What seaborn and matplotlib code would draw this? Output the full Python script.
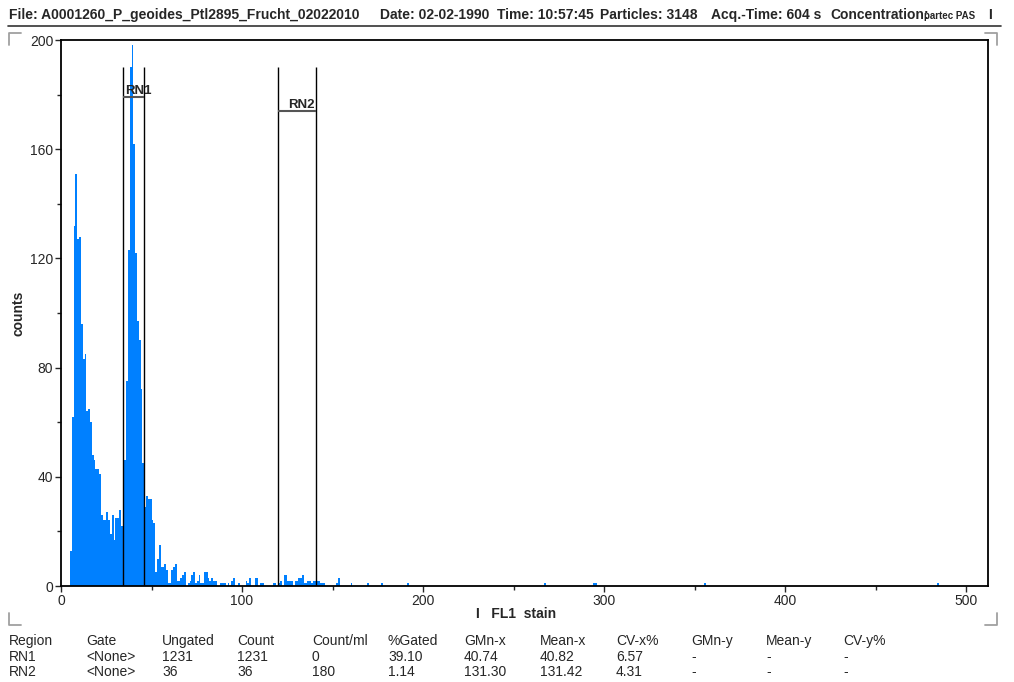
import numpy as np
import pandas as pd
import matplotlib.pyplot as plt
import matplotlib.lines as mlines
from matplotlib.ticker import MultipleLocator
import seaborn as sns

# FL1 histogram, one channel per bin (channels 5..153 then a few stray events)
channel = list(range(5, 154)) + [160, 169, 177, 191, 267, 294, 295, 355, 484]
counts = [13, 62, 132, 151, 127, 128, 96, 83, 85, 64,
          65, 60, 48, 46, 43, 43, 41, 26, 24, 24,
          27, 24, 19, 26, 17, 25, 25, 28, 22, 26,
          46, 75, 123, 190, 198, 162, 122, 97, 90, 72,
          45, 29, 33, 32, 32, 24, 23, 5, 10, 15,
          7, 7, 8, 6, 1, 1, 6, 7, 8, 2,
          2, 3, 4, 5, 0, 1, 2, 4, 5, 1,
          2, 4, 1, 1, 5, 5, 3, 2, 3, 2,
          2, 0, 0, 1, 1, 1, 0, 1, 0, 2,
          3, 0, 0, 1, 0, 0, 0, 2, 1, 3,
          0, 0, 3, 3, 0, 1, 1, 0, 0, 0,
          0, 0, 1, 1, 0, 1, 2, 0, 4, 4,
          2, 2, 2, 0, 2, 2, 3, 3, 4, 1,
          1, 2, 2, 1, 2, 2, 2, 2, 1, 1,
          1, 0, 0, 0, 0, 0, 0, 1, 3,
          1, 1, 1, 1, 1, 1, 1, 1, 1]

# region gates
gate_names = ['RN1', 'RN2']
gate_lo = [34.4, 120.0]
gate_hi = [46.0, 141.0]
gate_top = [190, 190]
gate_bar = [179, 174]

# statistics table
table_cols = ['Region', 'Gate', 'Ungated', 'Count', 'Count/ml', '%Gated',
              'GMn-x', 'Mean-x', 'CV-x%', 'GMn-y', 'Mean-y', 'CV-y%']
row_rn1 = ['RN1', '<None>', '1231', '1231', '0', '39.10', '40.74', '40.82', '6.57', '-', '-', '-']
row_rn2 = ['RN2', '<None>', '36', '36', '180', '1.14', '131.30', '131.42', '4.31', '-', '-', '-']

header_parts = ['File: A0001260_P_geoides_Ptl2895_Frucht_02022010', 'Date: 02-02-1990',
                'Time: 10:57:45', 'Particles: 3148', 'Acq.-Time: 604 s', 'Concentration:']

W, H = 1014, 682
sns.set_style('ticks')
plt.rcParams['font.family'] = ['Liberation Sans', 'DejaVu Sans']
plt.rcParams['axes.edgecolor'] = 'black'

fig = plt.figure(figsize=(W / 100, H / 100), dpi=100)
ax = fig.add_axes([61 / W, 1 - 586 / H, 927 / W, 546 / H])

df = pd.DataFrame({'channel': channel, 'counts': counts})
sns.histplot(data=df, x='channel', weights='counts', binwidth=1, binrange=(0, 512),
             color='#0080ff', alpha=1, linewidth=0, ax=ax)

# gates
ax.vlines(gate_lo + gate_hi, 0, gate_top + gate_top, color='black', lw=1)
ax.hlines(gate_bar, gate_lo, gate_hi, color='#555555', lw=1.5)
for name, lo, hi, yb in zip(gate_names, gate_lo, gate_hi, gate_bar):
    ax.text((lo + hi) / 2 + 2.5, yb, name, ha='center', va='bottom',
            fontsize=9.5, fontweight='bold')

ax.set_xlim(0, 512)
ax.set_ylim(0, 200)
ax.set_xticks(range(0, 501, 100))
ax.set_yticks(range(0, 201, 40))
ax.xaxis.set_minor_locator(MultipleLocator(50))
ax.yaxis.set_minor_locator(MultipleLocator(20))
ax.tick_params(which='major', length=4, width=1, labelsize=10, pad=1.5)
ax.tick_params(which='minor', length=3, width=1)
for s in ax.spines.values():
    s.set_linewidth(1.3)

ax.set_xlabel('I   FL1  stain', fontweight='bold', fontsize=10)
ax.xaxis.set_label_coords((516 - 61) / 927, -(607 - 586) / 546)
ax.set_ylabel('counts', fontweight='bold', fontsize=10, labelpad=3)

# header line
hx = [9, 380, 497, 600, 711, 830]
for txt, x in zip(header_parts, hx):
    fig.text(x / W, 1 - 15 / H, txt, fontsize=10, fontweight='bold', va='center')
fig.text(924 / W, 1 - 16 / H, 'partec PAS', fontsize=7, fontweight='bold', va='center')
fig.text(988 / W, 1 - 15 / H, 'I', fontsize=10, fontweight='bold', va='center')
fig.add_artist(mlines.Line2D([8 / W, 1001 / W], [1 - 26 / H] * 2, color='#333333', lw=1.2))

# grey corner marks
mk = '#a0a0a0'
for xs, ys in [([9, 9, 21], [45, 33, 33]), ([985, 997, 997], [33, 33, 45]),
               ([9, 9, 21], [613, 625, 625]), ([985, 997, 997], [625, 625, 613])]:
    fig.add_artist(mlines.Line2D([v / W for v in xs], [1 - v / H for v in ys], color=mk, lw=1.3))

# stats table
col_x = [9, 86, 162, 237, 312, 388, 464, 540, 616, 691, 766, 843]
for row, y in zip([table_cols, row_rn1, row_rn2], [641, 657, 672]):
    for txt, x in zip(row, col_x):
        fig.text(x / W, 1 - y / H, txt, fontsize=10, va='center')

plt.savefig('out.png', dpi=100)
